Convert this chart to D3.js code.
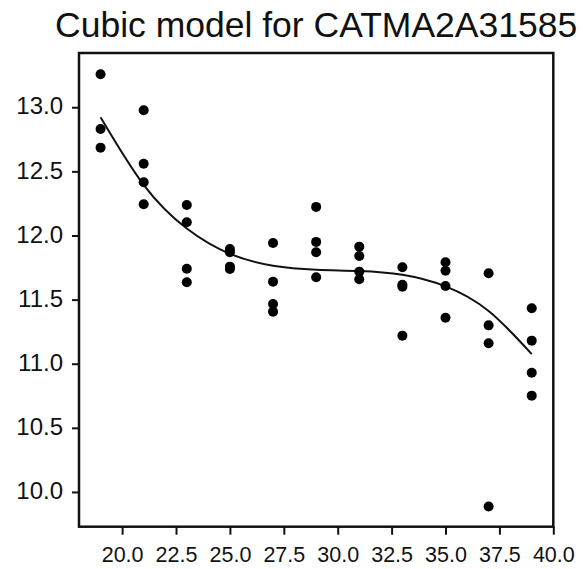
<!DOCTYPE html>
<html>
<head>
<meta charset="utf-8">
<script src="https://cdn.jsdelivr.net/npm/d3@7"></script>
<style>
  html, body { margin: 0; padding: 0; background: #fff; }
  svg { display: block; font-family: "Liberation Sans", Arial, sans-serif; }
</style>
</head>
<body>
<svg id="chart" width="583" height="569"></svg>
<script>
// ---- data ----
const titleText = "Cubic model for CATMA2A31585";
const obsX = [19,19,19, 21,21,21,21, 23,23,23,23, 25,25,25,25, 27,27,27,27, 29,29,29,29, 31,31,31,31, 33,33,33,33, 35,35,35,35, 37,37,37,37, 39,39,39,39];
const obsY = [13.257,12.831,12.685, 12.977,12.560,12.415,12.244, 12.238,12.103,11.741,11.635, 11.895,11.869,11.757,11.739, 11.942,11.640,11.466,11.406, 12.223,11.950,11.869,11.674, 11.913,11.840,11.718,11.659, 11.752,11.615,11.601,11.219, 11.791,11.725,11.606,11.359, 11.705,11.299,11.160,9.887, 11.433,11.180,10.930,10.751];
const fitX = [19,21,23,25,27,29,31,33,35,37,39];
const fitY = [12.922,12.395,12.054,11.857,11.764,11.733,11.723,11.693,11.603,11.411,11.075];
const xTicks = [20.0,22.5,25.0,27.5,30.0,32.5,35.0,37.5,40.0];
const yTicks = [10.0,10.5,11.0,11.5,12.0,12.5,13.0];

// ---- layout ----
const mL = 79, mR = 553.3, mT = 53, mB = 526.7;
const svg = d3.select("#chart");

const x = d3.scaleLinear().domain([18, 40]).range([mL, mR]);
const y = d3.scaleLinear().domain([9.729, 13.423]).range([mB, mT]);

// title
svg.append("text")
  .attr("x", (mL + mR) / 2)
  .attr("y", 37)
  .attr("text-anchor", "middle")
  .attr("font-size", 35.5)
  .attr("fill", "#111")
  .text(titleText);

// axes
const yAxis = svg.append("g")
  .attr("transform", `translate(${mL},0)`)
  .call(d3.axisLeft(y).tickValues(yTicks).tickFormat(d3.format(".1f")).tickSize(7).tickSizeOuter(0).tickPadding(9));
yAxis.select(".domain").remove();
yAxis.selectAll(".tick line").attr("stroke", "#111").attr("stroke-width", 2);
yAxis.selectAll(".tick text").attr("font-size", 24).attr("fill", "#111").attr("dy", "0.28em")
  .attr("font-family", "Liberation Sans, Arial, sans-serif");

const xAxis = svg.append("g")
  .attr("transform", `translate(0,${mB})`)
  .call(d3.axisBottom(x).tickValues(xTicks).tickFormat(d3.format(".1f")).tickSize(8).tickSizeOuter(0).tickPadding(12));
xAxis.select(".domain").remove();
xAxis.selectAll(".tick line").attr("stroke", "#111").attr("stroke-width", 2);
xAxis.selectAll(".tick text").attr("font-size", 21.5).attr("fill", "#111")
  .attr("font-family", "Liberation Sans, Arial, sans-serif");

// frame
svg.append("rect")
  .attr("x", mL).attr("y", mT)
  .attr("width", mR - mL).attr("height", mB - mT)
  .attr("fill", "none").attr("stroke", "#111").attr("stroke-width", 2.5);

// fitted curve
const line = d3.line().x((d, i) => x(fitX[i])).y(d => y(d)).curve(d3.curveNatural);
svg.append("path")
  .datum(fitY)
  .attr("d", line)
  .attr("fill", "none")
  .attr("stroke", "#111")
  .attr("stroke-width", 2);

// observations
svg.append("g").selectAll("circle")
  .data(obsY)
  .join("circle")
  .attr("cx", (d, i) => x(obsX[i]))
  .attr("cy", d => y(d))
  .attr("r", 5)
  .attr("fill", "#000");
</script>
</body>
</html>
